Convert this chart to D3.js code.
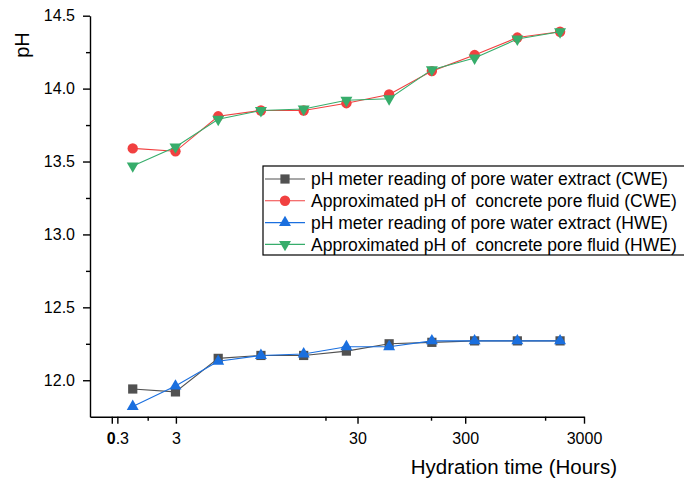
<!DOCTYPE html>
<html>
<head>
<meta charset="utf-8">
<script src="https://cdn.jsdelivr.net/npm/d3@7"></script>
<style>
  body { margin: 0; background: #fff; }
  text { font-family: "Liberation Sans", Arial, sans-serif; fill: #000; }
</style>
</head>
<body>
<div id="chart"></div>
<script>
  // sample index (points sit evenly along the axis)
  const samples = [0, 1, 2, 3, 4, 5, 6, 7, 8, 9, 10];

  // pH series
  const cweMeter = [11.94, 11.92, 12.15, 12.17, 12.17, 12.20, 12.25, 12.26, 12.27, 12.27, 12.27];
  const cweApprox = [13.59, 13.57, 13.81, 13.85, 13.85, 13.90, 13.96, 14.12, 14.23, 14.35, 14.39];
  const hweMeter = [11.82, 11.96, 12.13, 12.17, 12.18, 12.23, 12.23, 12.27, 12.27, 12.27, 12.27];
  const hweApprox = [13.47, 13.60, 13.79, 13.85, 13.86, 13.92, 13.93, 14.13, 14.21, 14.34, 14.39];

  const seriesNames = [
    "pH meter reading of pore water extract (CWE)",
    "Approximated pH of  concrete pore fluid (CWE)",
    "pH meter reading of pore water extract (HWE)",
    "Approximated pH of  concrete pore fluid (HWE)"
  ];

  // x axis ticks (in sample index units) and their labels
  const xTickPos = [-0.49, -0.36, 1.01, 5.26, 7.78, 10.56];
  const xTickLabels = ["", "0.3", "3", "30", "300", "3000"];
  const xMinorPos = [0.35, 4.51, 6.98, 9.65];

  const yTicks = [12.0, 12.5, 13.0, 13.5, 14.0, 14.5];
  const yMinor = [12.25, 12.75, 13.25, 13.75, 14.25];

  const width = 684, height = 481;

  const svg = d3.select("#chart").append("svg")
    .attr("width", width)
    .attr("height", height);

  svg.append("rect").attr("width", width).attr("height", height).attr("fill", "#fff");

  const x = d3.scaleLinear().domain([-1, 10.56]).range([90, 584]);
  const y = d3.scaleLinear().domain([11.75, 14.5]).range([416.7, 15.7]);

  // x axis
  const xAxis = svg.append("g")
    .attr("transform", `translate(0,${y(11.75)})`)
    .call(d3.axisBottom(x).tickValues(xTickPos)
      .tickFormat((d, i) => xTickLabels[i])
      .tickSize(7).tickSizeOuter(0).tickPadding(9));
  svg.append("g")
    .attr("transform", `translate(0,${y(11.75)})`)
    .call(d3.axisBottom(x).tickValues(xMinorPos).tickFormat("").tickSize(4).tickSizeOuter(0))
    .select(".domain").remove();

  // the "0" of 0.3 prints heavier (two labels stacked in the original)
  xAxis.selectAll(".tick text")
    .filter(d => d === xTickPos[1])
    .text(null)
    .call(t => {
      t.append("tspan").attr("font-weight", "bold").text("0");
      t.append("tspan").text(".3");
    });

  // y axis
  svg.append("g")
    .attr("transform", `translate(${x(-1)},0)`)
    .call(d3.axisLeft(y).tickValues(yTicks).tickFormat(d3.format(".1f"))
      .tickSize(7).tickSizeOuter(0).tickPadding(8));
  svg.append("g")
    .attr("transform", `translate(${x(-1)},0)`)
    .call(d3.axisLeft(y).tickValues(yMinor).tickFormat("").tickSize(4).tickSizeOuter(0))
    .select(".domain").remove();

  svg.selectAll(".domain, .tick line").attr("stroke", "#000").attr("stroke-width", 1.4);
  svg.selectAll(".tick text").style("font-size", "16px").style("font-family", "Liberation Sans, Arial, sans-serif").attr("fill", "#000");

  // axis titles
  svg.append("text")
    .attr("text-anchor", "end")
    .attr("x", 617)
    .attr("y", 474)
    .style("font-size", "20.5px")
    .text("Hydration time (Hours)");

  svg.append("text")
    .attr("text-anchor", "middle")
    .attr("transform", "translate(29,45) rotate(-90)")
    .style("font-size", "20px")
    .text("pH");

  // series
  const colors = ["#515151", "#F14040", "#1A6FDF", "#37AD6B"];
  const symbols = [
    d3.symbol().type(d3.symbolSquare).size(85),
    d3.symbol().type(d3.symbolCircle).size(85),
    d3.symbol().type(d3.symbolTriangle).size(62),
    d3.symbol().type(d3.symbolTriangle).size(62)
  ];
  const flips = ["", "", "", " rotate(180)"];
  const allSeries = [cweMeter, cweApprox, hweMeter, hweApprox];

  const line = d3.line()
    .x((d, i) => x(samples[i]))
    .y(d => y(d));

  allSeries.forEach(function(vals, s) {
    const g = svg.append("g");
    g.append("path")
      .attr("d", line(vals))
      .attr("fill", "none")
      .attr("stroke", colors[s])
      .attr("stroke-width", 1.1);
    g.selectAll("path.mk")
      .data(vals)
      .enter()
      .append("path")
      .attr("class", "mk")
      .attr("d", symbols[s])
      .attr("transform", (d, i) => `translate(${x(samples[i])},${y(d)})` + flips[s])
      .attr("fill", colors[s]);
  });

  // legend
  const legend = svg.append("g").attr("transform", "translate(263,166)");
  legend.append("rect")
    .attr("width", 430)
    .attr("height", 89)
    .attr("fill", "#fff")
    .attr("stroke", "#000")
    .attr("stroke-width", 1.2);

  seriesNames.forEach(function(name, s) {
    const row = legend.append("g").attr("transform", `translate(0,${13 + s * 21.8})`);
    row.append("line")
      .attr("x1", 2).attr("x2", 42)
      .attr("stroke", colors[s]).attr("stroke-width", 1.1);
    row.append("path")
      .attr("d", symbols[s])
      .attr("transform", "translate(22,0)" + flips[s])
      .attr("fill", colors[s]);
    row.append("text")
      .attr("x", 48)
      .attr("dy", "0.35em")
      .style("font-size", "17.5px")
      .style("white-space", "pre")
      .text(name);
  });
</script>
</body>
</html>
